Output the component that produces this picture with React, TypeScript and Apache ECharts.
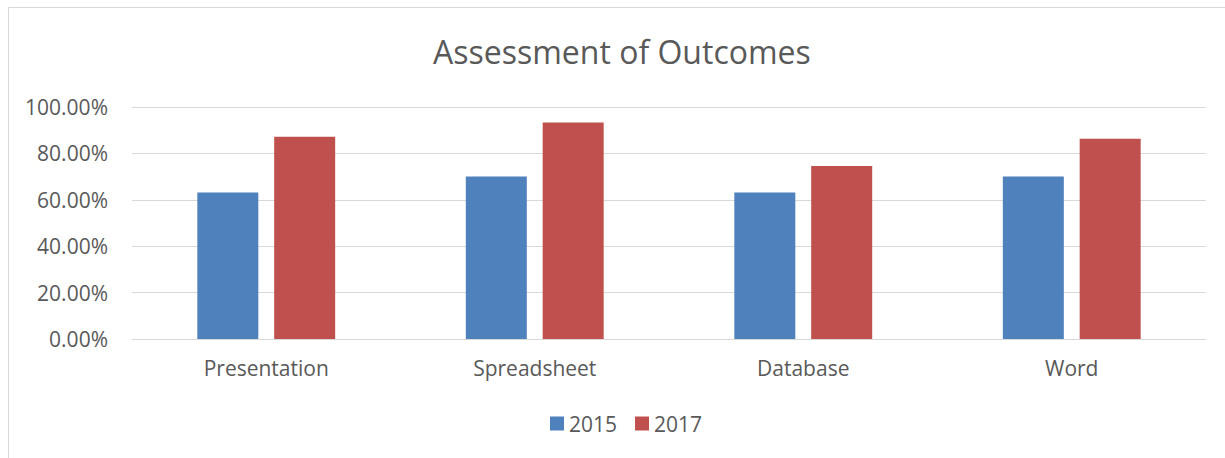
import React, { useEffect, useRef } from "react";
import * as echarts from "echarts";

const categories = ["Presentation", "Spreadsheet", "Database", "Word"];
const series2015 = [0.6316, 0.7, 0.6316, 0.7];
const series2017 = [0.8718, 0.9333, 0.7459, 0.8636];
const seriesNames = ["2015", "2017"];
const yTicks = [0, 0.2, 0.4, 0.6, 0.8, 1.0];

const FONT = "'Open Sans', Lato, sans-serif";
const TEXT = "#595959";
const GRID = "#d9d9d9";

export default function App() {
  const ref = useRef<HTMLDivElement>(null);
  useEffect(() => {
    if (!ref.current) return;
    const chart = echarts.init(ref.current, undefined, { renderer: "svg" });
    chart.setOption({
      animation: false,
      backgroundColor: "#ffffff",
      textStyle: { fontFamily: FONT },
      title: {
        text: "Assessment of Outcomes",
        left: 428,
        top: 30,
        textStyle: { fontFamily: FONT, fontSize: 32, fontWeight: "normal", color: TEXT },
      },
      legend: {
        data: seriesNames,
        left: 545,
        top: 408,
        itemWidth: 14,
        itemHeight: 14,
        itemGap: 18,
        icon: "rect",
        textStyle: { fontFamily: FONT, fontSize: 21, color: TEXT },
      },
      grid: { left: 132, right: 19, top: 107, bottom: 119 },
      xAxis: {
        type: "category",
        data: categories,
        axisLine: { lineStyle: { color: GRID, width: 1 } },
        axisTick: { show: false },
        axisLabel: { fontFamily: FONT, fontSize: 21, color: TEXT, margin: 18 },
      },
      yAxis: {
        type: "value",
        min: yTicks[0],
        max: yTicks[yTicks.length - 1],
        interval: 0.2,
        axisLine: { show: false },
        axisTick: { show: false },
        splitLine: { lineStyle: { color: GRID, width: 1 } },
        axisLabel: {
          fontFamily: FONT,
          fontSize: 21,
          color: TEXT,
          margin: 24,
          formatter: (v: number) => (v * 100).toFixed(2) + "%",
        },
      },
      series: [
        {
          name: seriesNames[0],
          type: "bar",
          data: series2015,
          barWidth: 61,
          barGap: "26%",
          itemStyle: { color: "#4F81BD" },
        },
        {
          name: seriesNames[1],
          type: "bar",
          data: series2017,
          barWidth: 61,
          barGap: "26%",
          itemStyle: { color: "#C0504D" },
        },
      ],
      graphic: [
        {
          type: "rect",
          shape: { x: 8.5, y: 7.5, width: 1240, height: 470 },
          style: { fill: "none", stroke: GRID, lineWidth: 1 },
          silent: true,
        },
      ],
    });
    return () => chart.dispose();
  }, []);
  return (
    <div
      ref={ref}
      style={{ position: "fixed", left: 0, top: 0, width: 1225, height: 458 }}
    />
  );
}
